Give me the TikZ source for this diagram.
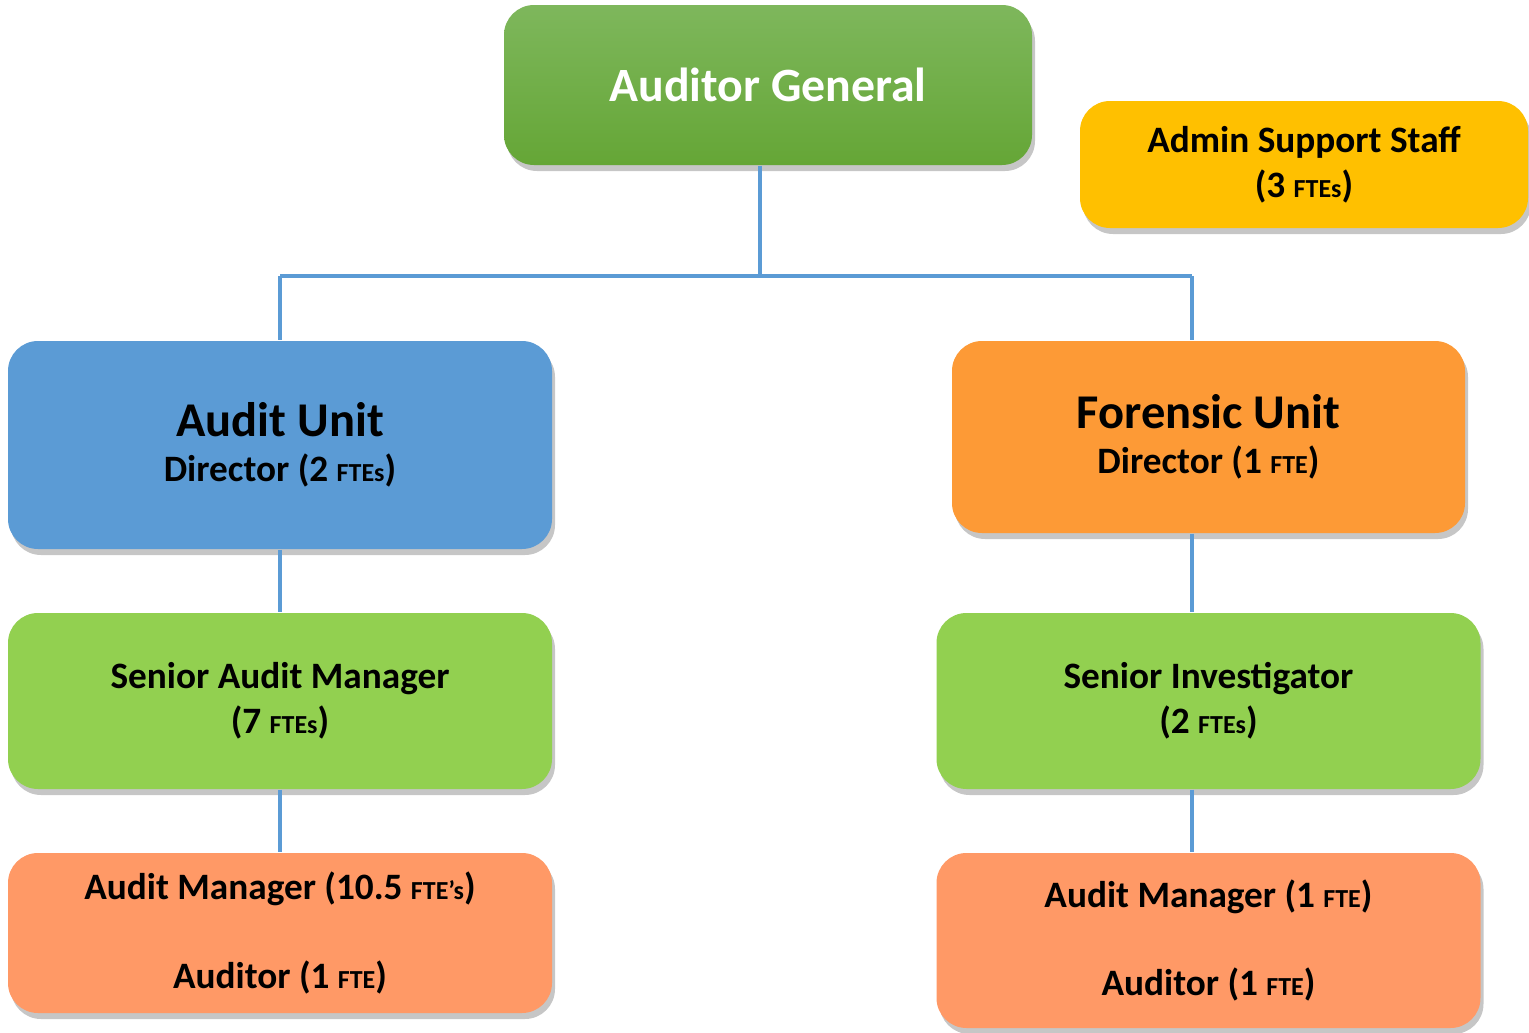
\documentclass[tikz,border=0pt]{standalone}
\usepackage{fontspec}
\setmainfont{Carlito}
\usepackage{tikz}
\usetikzlibrary{positioning}
\usetikzlibrary{shadows}
\definecolor{agtop}{RGB}{126,183,92}
\definecolor{agbot}{RGB}{101,166,54}
\definecolor{linkblue}{RGB}{91,155,213}
\definecolor{auditblue}{RGB}{91,155,213}
\definecolor{forensic}{RGB}{253,154,54}
\definecolor{senior}{RGB}{146,208,80}
\definecolor{manager}{RGB}{255,153,102}
\definecolor{admin}{RGB}{255,192,0}
\newcommand{\fte}[1]{{\fontsize{7.4}{8}\selectfont #1}}

\begin{document}
\begin{tikzpicture}[
            auto,
            node distance = 2.5cm, % distance between boxes
            link/.style = {draw = linkblue, line width = 1.3pt}
        ]

        \tikzstyle{unit}=[
            rectangle,
            rounded corners = 0.3cm,
            align = center,
            inner sep = 0pt,
            font = \fontsize{10.6}{12.8}\selectfont\bfseries,
            drop shadow = {shadow xshift = 0.3mm, shadow yshift = -0.6mm, opacity = 0.45}
        ]

        \useasboundingbox (0,0) rectangle (15.29,-10.33);

	% top level
        \node[unit, top color = agtop, bottom color = agbot, text = white,
              minimum width = 5.28cm, minimum height = 1.6cm,
              font = \fontsize{13.6}{16}\selectfont\bfseries] (AG) at (7.68,-0.85) {Auditor General};
        \node[unit, fill = admin, minimum width = 4.48cm, minimum height = 1.27cm] (AS) at (13.04,-1.645)
              {Admin Support Staff\\(3 \fte{FTEs})};

	% units
        \node[unit, fill = auditblue, minimum width = 5.44cm, minimum height = 2.08cm] (AU) at (2.80,-4.45)
              {{\fontsize{13.8}{16.5}\selectfont Audit Unit}\\Director (2 \fte{FTEs})};
        \node[unit, fill = forensic, minimum width = 5.13cm, minimum height = 1.92cm] (FU) at (12.085,-4.37)
              {{\fontsize{13.8}{16.5}\selectfont Forensic Unit}\\Director (1 \fte{FTE})};

	% staff
        \node[unit, fill = senior, minimum width = 5.44cm, minimum height = 1.76cm] (SAM) [below of = AU, node distance = 2.56cm]
              {Senior Audit Manager\\(7 \fte{FTEs})};
        \node[unit, fill = manager, minimum width = 5.44cm, minimum height = 1.6cm] (AM) [below of = SAM, node distance = 2.32cm]
              {Audit Manager (10.5 \fte{FTE’s})\\[12.3pt]Auditor (1 \fte{FTE})};
        \node[unit, fill = senior, minimum width = 5.44cm, minimum height = 1.76cm] (SI) [below of = FU, node distance = 2.64cm]
              {Senior Investigator\\(2 \fte{FTEs})};
        \node[unit, fill = manager, minimum width = 5.44cm, minimum height = 1.75cm] (FM) [below of = SI, node distance = 2.395cm]
              {Audit Manager (1 \fte{FTE})\\[12.3pt]Auditor (1 \fte{FTE})};

	% links
        \coordinate (J) at (7.60,-2.76);
        \coordinate (JL) at (2.80,-2.76);
        \coordinate (JR) at (11.92,-2.76);

        \path[link] (AG.south -| J) -- (J);
        \path[link] (JL) -- (JR);
        \path[link] (JL) -- (AU.north);
        \path[link] (JR) -- (JR |- FU.north);
        \path[link] (AU.south) -- (SAM.north);
        \path[link] (SAM.south) -- (AM.north);
        \path[link] (FU.south -| JR) -- (SI.north -| JR);
        \path[link] (SI.south -| JR) -- (FM.north -| JR);

  \end{tikzpicture}
\end{document}
